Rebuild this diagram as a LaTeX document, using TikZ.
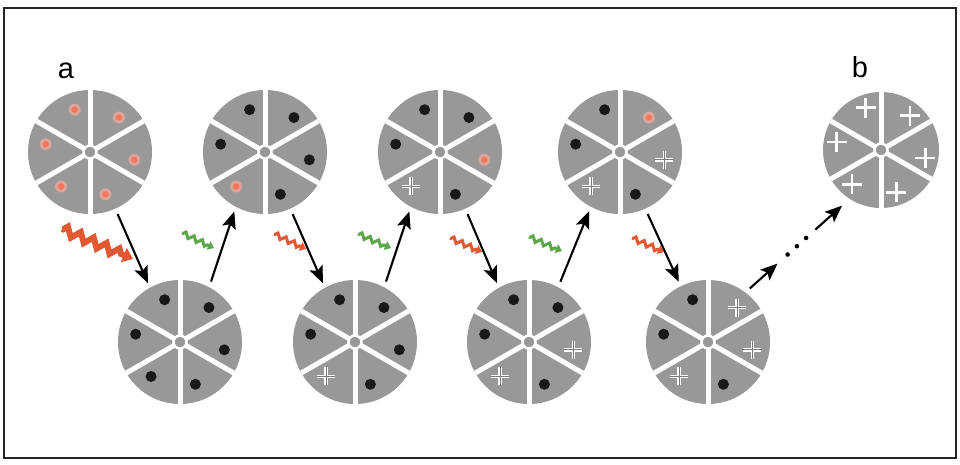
\documentclass[tikz,border=0pt]{standalone}
\usepackage{fontspec}
\setmainfont{Liberation Sans}
\usetikzlibrary{arrows.meta,decorations.pathmorphing,calc}
\definecolor{diskgray}{RGB}{152,152,152}
\definecolor{zred}{RGB}{226,88,50}
\definecolor{zgreen}{RGB}{92,168,72}
\definecolor{halo}{RGB}{218,165,155}
\definecolor{core}{RGB}{246,118,92}
\tikzset{
  disk/.style={circle, fill=diskgray, minimum size=124pt, inner sep=0pt, outer sep=0pt},
  smalldisk/.style={disk, minimum size=116pt},
  spoke/.style={white, line width=5pt},
  flow/.style={line width=2.1pt, -{Stealth[length=17pt,width=14pt,inset=3.5pt]}},
  zz/.style={decorate, decoration={zigzag, segment length=9pt, amplitude=2.6pt, pre length=1pt, post length=6pt}, line width=3pt, line join=miter, -{Triangle[length=6pt,width=9pt]}},
  zzbig/.style={decorate, decoration={zigzag, segment length=14pt, amplitude=4.5pt, pre length=1pt, post length=9pt}, line width=6pt, line join=miter, -{Triangle[length=10pt,width=15pt]}},
  lab/.style={font=\fontsize{29}{29}\selectfont, anchor=base, inner sep=0pt}
}
\newcommand\mkB[1]{\fill[black!90] #1 circle (5.5pt);}
\newcommand\mkO[1]{\fill[halo] #1 circle (6pt); \fill[core] #1 circle (3.2pt);}
\newcommand\mkC[1]{\draw[white, line width=3.4pt] #1 ++(-9pt,0) -- ++(18pt,0) #1 ++(0,-9pt) -- ++(0,18pt);
  \draw[diskgray!80!black, line width=0.7pt] #1 ++(-9pt,0) -- ++(18pt,0) #1 ++(0,-9pt) -- ++(0,18pt);}
\newcommand\mkP[1]{\draw[white, line width=2.5pt] #1 ++(-10pt,0) -- ++(20pt,0) #1 ++(0,-10pt) -- ++(0,20pt);}
\newcommand\mkwheel[2]{%
  \foreach \a in {90,30,-30,-90,-150,150}{\draw[spoke] (#1.center) -- (#1.\a);}
  \filldraw[fill=diskgray, draw=white, line width=2.5pt] (#1.center) circle (6.5pt);
  \begin{scope}[shift={(#1.center)}]
    \foreach \t [count=\i] in {#2}{%
      \pgfmathsetmacro\ang{{110,50,170,-10,230,290}[\i-1]}%
      \csname mk\t\endcsname{(\ang:45pt)}%
    }
  \end{scope}}
\begin{document}
\begin{tikzpicture}[x=1pt,y=-1pt]
\useasboundingbox (0,0) rectangle (960,464);
\fill[white] (0,0) rectangle (960,464);
\draw[line width=1.3pt, black!85] (4,8) rectangle (956,458);

\node[lab] (la) at (66,78) {a};
\node[lab] (lb) at (860,77) {b};

\node[disk] (d1) at (90,152) {};
\node[disk] (d2) at (265,152) {};
\node[disk] (d3) at (440,152) {};
\node[disk] (d4) at (620,152) {};
\node[smalldisk] (db) at (881,150) {};
\node[disk] (d5) at (180,342) {};
\node[disk] (d6) at (355,342) {};
\node[disk] (d7) at (529,342) {};
\node[disk] (d8) at (708,342) {};

\mkwheel{d1}{O,O,O,O,O,O}
\mkwheel{d2}{B,B,B,B,O,B}
\mkwheel{d3}{B,B,B,O,C,B}
\mkwheel{d4}{B,O,B,C,C,B}
\mkwheel{db}{P,P,P,P,P,P}
\mkwheel{d5}{B,B,B,B,B,B}
\mkwheel{d6}{B,B,B,B,C,B}
\mkwheel{d7}{B,B,B,C,C,B}
\mkwheel{d8}{B,C,B,C,C,B}

\draw[flow, shorten <=6pt, shorten >=5pt] (d1.-66) -- (d5.119);
\draw[flow, shorten <=6pt, shorten >=5pt] (d5.62) -- (d2.-118);
\draw[flow, shorten <=6pt, shorten >=5pt] (d2.-66) -- (d6.119);
\draw[flow, shorten <=6pt, shorten >=5pt] (d6.62) -- (d3.-118);
\draw[flow, shorten <=6pt, shorten >=5pt] (d3.-66) -- (d7.119);
\draw[flow, shorten <=6pt, shorten >=5pt] (d7.62) -- (d4.-118);
\draw[flow, shorten <=6pt, shorten >=5pt] (d4.-66) -- (d8.116);

\coordinate (s8) at ($(d8.center)+(52:68pt)$);
\coordinate (eb) at ($(db.center)+(-125:68pt)$);
\draw[flow] (s8) -- ($(s8)!0.3!(eb)$);
\foreach \p in {0.41,0.51,0.61}{\fill ($(s8)!\p!(eb)$) circle (2.3pt);}
\draw[flow] ($(s8)!0.71!(eb)$) -- (eb);

\draw[zzbig, zred] (62,229) -- (133,259);
\draw[zz, zgreen] (182,233) -- (214,248);
\draw[zz, zred] (274,234) -- (306,249);
\draw[zz, zgreen] (358,234) -- (391,248);
\draw[zz, zred] (450,238) -- (482,252);
\draw[zz, zgreen] (529,237) -- (562,251);
\draw[zz, zred] (632,238) -- (664,252);
\end{tikzpicture}
\end{document}
